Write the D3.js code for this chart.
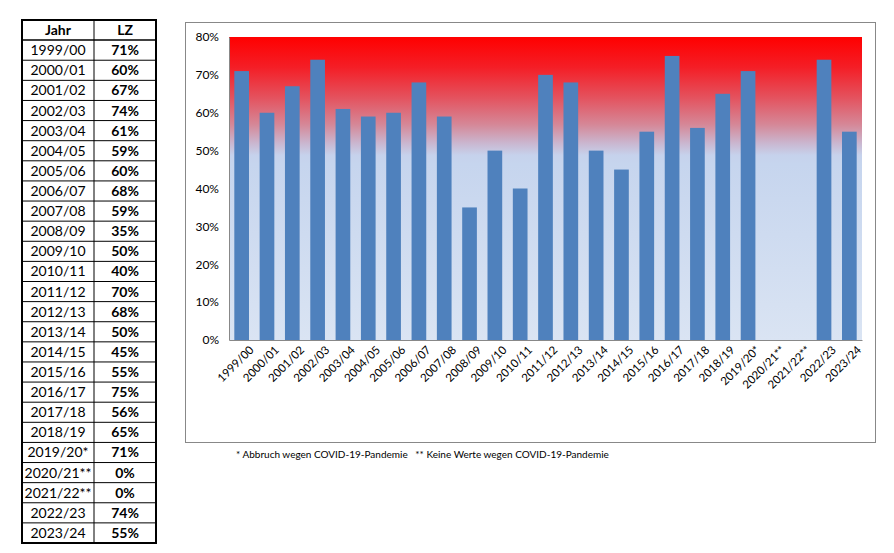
<!DOCTYPE html>
<html><head><meta charset="utf-8">
<script src="https://cdn.jsdelivr.net/npm/d3@7"></script>
<style>body{margin:0;background:#fff;} svg{display:block;}</style>
</head><body>
<svg id="c" width="894" height="553"></svg>
<script>
const categories = ["1999/00","2000/01","2001/02","2002/03","2003/04","2004/05","2005/06","2006/07","2007/08","2008/09","2009/10","2010/11","2011/12","2012/13","2013/14","2014/15","2015/16","2016/17","2017/18","2018/19","2019/20*","2020/21**","2021/22**","2022/23","2023/24"];
const values = [71,60,67,74,61,59,60,68,59,35,50,40,70,68,50,45,55,75,56,65,71,0,0,74,55];
const yTicks = [0,10,20,30,40,50,60,70,80];
const tableHeader = ["Jahr","LZ"];
const footnote = "* Abbruch wegen COVID-19-Pandemie   ** Keine Werte wegen COVID-19-Pandemie";

const svg = d3.select("#c");
const font = "Lato, 'Open Sans', sans-serif";

// ---- Table ----
const tx0 = 22, tx1 = 156, tdiv = 94, ty0 = 20, ty1 = 543;
const nRows = categories.length + 1;
const rowY = d3.scaleLinear().domain([0, nRows]).range([ty0, ty1]);
const tg = svg.append("g");
for (let i = 1; i < nRows; i++) {
  tg.append("line").attr("x1", tx0).attr("x2", tx1).attr("y1", rowY(i)).attr("y2", rowY(i))
    .attr("stroke", "#000").attr("stroke-width", i === 1 ? 1.5 : 1);
}
tg.append("line").attr("x1", tdiv).attr("x2", tdiv).attr("y1", ty0).attr("y2", ty1).attr("stroke", "#000").attr("stroke-width", 1);
tg.append("rect").attr("x", tx0).attr("y", ty0).attr("width", tx1 - tx0).attr("height", ty1 - ty0)
  .attr("fill", "none").attr("stroke", "#000").attr("stroke-width", 2);
const rowsData = [[tableHeader[0], tableHeader[1], true]].concat(categories.map((c, i) => [c, values[i] + "%", false]));
rowsData.forEach((r, i) => {
  const cy = (rowY(i) + rowY(i + 1)) / 2 + 5;
  tg.append("text").attr("x", (tx0 + tdiv) / 2).attr("y", cy).attr("text-anchor", "middle")
    .attr("font-family", font).attr("font-size", 14).attr("font-weight", r[2] ? "bold" : "normal").attr("fill", "#000").text(r[0]);
  tg.append("text").attr("x", (tdiv + tx1) / 2).attr("y", cy).attr("text-anchor", "middle")
    .attr("font-family", font).attr("font-size", 14).attr("font-weight", "bold").attr("fill", "#000").text(r[1]);
});

// ---- Chart ----
svg.append("rect").attr("x", 185.5).attr("y", 22.5).attr("width", 690).attr("height", 420)
  .attr("fill", "#fff").attr("stroke", "#888").attr("stroke-width", 1);

const px0 = 229, px1 = 862, py0 = 37, py1 = 340;
const x = d3.scaleBand().domain(categories).range([px0, px1]).paddingInner(0.42).paddingOuter(0.21);
const y = d3.scaleLinear().domain([0, 80]).range([py1, py0]);

const defs = svg.append("defs");
const grad = defs.append("linearGradient").attr("id", "bg").attr("x1", 0).attr("y1", 0).attr("x2", 0).attr("y2", 1);
[[0, "#FF0000"], [0.1, "#F41E26"], [0.2, "#E4525E"], [0.29, "#D58898"], [0.35, "#CAB6CF"], [0.39, "#C6D2EC"], [0.42, "#C6D5EE"], [1, "#DAE4F3"]]
  .forEach(([o, c]) => grad.append("stop").attr("offset", o).attr("stop-color", c));
svg.append("rect").attr("x", px0).attr("y", py0).attr("width", px1 - px0).attr("height", py1 - py0).attr("fill", "url(#bg)");

svg.append("g").selectAll("rect").data(categories).join("rect")
  .attr("x", d => x(d)).attr("width", x.bandwidth())
  .attr("y", (d, i) => y(values[i])).attr("height", (d, i) => y(0) - y(values[i]))
  .attr("fill", "#4F81BD");

const ya = svg.append("g").attr("transform", `translate(${px0},0)`)
  .call(d3.axisLeft(y).tickValues(yTicks).tickFormat(d => d + "%").tickSize(0).tickPadding(10));
ya.select(".domain").attr("stroke", "#888");
ya.selectAll("text").attr("font-family", font).attr("font-size", 12).attr("fill", "#000");

const xa = svg.append("g").attr("transform", `translate(0,${py1})`)
  .call(d3.axisBottom(x).tickSize(0).tickPadding(6));
xa.select(".domain").attr("stroke", "#888");
xa.selectAll("text").attr("font-family", font).attr("font-size", 11.5).attr("fill", "#000")
  .attr("text-anchor", "end").attr("dy", "0.3em")
  .attr("transform", "translate(6,4) rotate(-45)");

svg.append("text").attr("x", 236).attr("y", 458).attr("font-family", font).attr("font-size", 10)
  .attr("fill", "#000").attr("xml:space", "preserve").style("white-space", "pre").text(footnote);
</script>
</body></html>
